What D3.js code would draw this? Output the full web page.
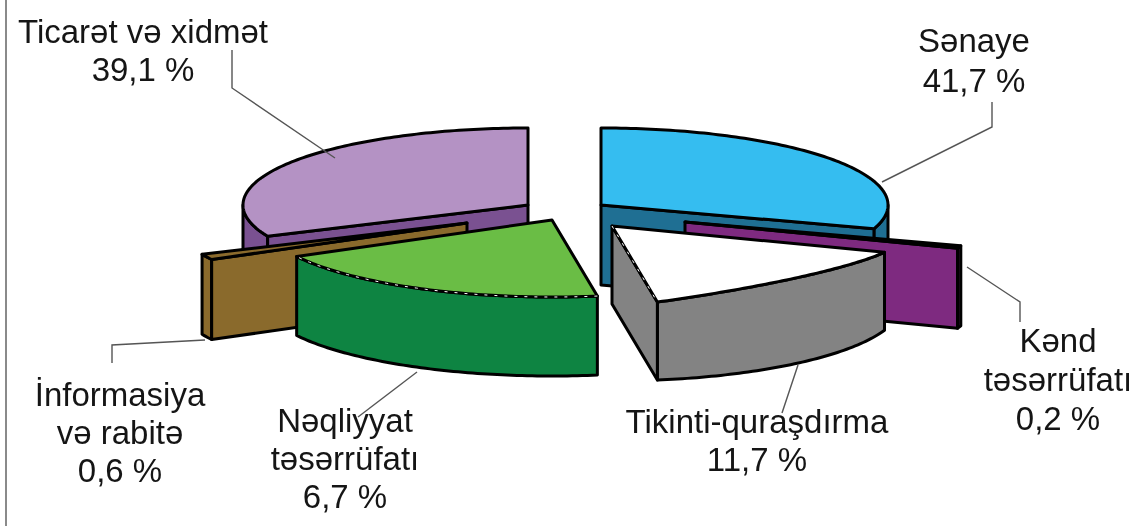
<!DOCTYPE html>
<html><head><meta charset="utf-8">
<script src="https://cdnjs.cloudflare.com/ajax/libs/d3/7.8.5/d3.min.js"></script>
<style>html,body{margin:0;background:#fff}svg{display:block}</style></head>
<body><svg id="c" width="1135" height="528"></svg>
<script>
// ---------- data ----------
const categories = ["Sənaye","Kənd təsərrüfatı","Tikinti-quraşdırma","Nəqliyyat təsərrüfatı","İnformasiya və rabitə","Ticarət və xidmət"];
const values = [41.7,0.2,11.7,6.7,0.6,39.1];
const valueLabels = ["41,7 %","0,2 %","11,7 %","6,7 %","0,6 %","39,1 %"];
const labelLines = [["Sənaye"],["Kənd","təsərrüfatı"],["Tikinti-quraşdırma"],["Nəqliyyat","təsərrüfatı"],["İnformasiya","və rabitə"],["Ticarət və xidmət"]];

// ---------- layout (perspective of the 3-D view) ----------
const pieBreaks = [0,150.12,150.84,192.96,217.08,219.24,360];
const viewBreaks = [0,108,110,171,241.7,246,360];
const warp = d3.scaleLinear().domain(pieBreaks).range(viewBreaks);
const RX = [287,290,290,290,290,285], RY = 77;
const rimBlend = [1,1,0.45,1,1,1];
const apexX = [601,685,612,552,467,528];
const apexY = [205,222,226,220,223,205];
const depth = [80,80,78,79,80,80];
const topCol = ["#35bdf0","#7e2a80","#ffffff","#6abd45","#8a6a2c","#b492c4"];
const sideCol = ["#1f6f93","#7e2a80","#838383","#0e8442","#8a6a2c","#7a5191"];
const rimCol = ["#1f6f93","#4a2450","#838383","#0e8442","#8a6a2c","#7a5191"];
const paintOrder = [5,0,4,1,3,2];
const labelX = [974,1058,757,345,120,143];
const labelY = [52,352,433,432,406,43];
const lineStep = [40,39,38,38,38,38];
const leaders = [
 [[992,102],[992,127],[882,182]],
 [[967,267],[1020,302],[1020,322]],
 [[798,365],[782,413]],
 [[417,372],[358,417]],
 [[205,340],[112,345],[112,363]],
 [[232,50],[232,88],[335,158]]
];

const svg = d3.select("#c");
const root = svg.append("g").style("filter","blur(0.45px)");
root.append("rect").attr("x",5).attr("y",0).attr("width",2).attr("height",526).attr("fill","#8a8a8a");

const deg = Math.PI/180;
const arcs = d3.pie().sort(null).value(d=>d).startAngle(0).endAngle(2*Math.PI)(values);
const line = d3.line();
const pt = (i,t,dy=0)=>[apexX[i]+RX[i]*Math.sin(t*deg), apexY[i]-RY*Math.cos(t*deg)+dy];
const rimPts = (i,a,b,dy=0)=>{ const n=Math.max(2,Math.ceil(Math.abs(b-a)))+1;
  return d3.range(n).map(k=>pt(i,a+(b-a)*k/(n-1),dy)); };
// upper rim, eased towards its chord where the view flattens it
const topPts = (i,a,b)=>{ const p=rimPts(i,a,b), s=p[0], e=p[p.length-1], k=rimBlend[i];
  return p.map(q=>{ const f=(q[0]-s[0])/((e[0]-s[0])||1);
    return [q[0], s[1]+(e[1]-s[1])*f+(q[1]-(s[1]+(e[1]-s[1])*f))*k]; }); };
const stroke = sel=>sel.attr("stroke","#000").attr("stroke-width",3).attr("stroke-linejoin","round");

paintOrder.forEach(i=>{
  const d = arcs[i];
  const t0 = warp(d.startAngle/deg), t1 = warp(d.endAngle/deg);
  const g = root.append("g").datum(d).attr("class","slice");
  const D = depth[i], apex=[apexX[i],apexY[i]];
  // outer wall (front half only)
  const a=Math.max(t0,90), b=Math.min(t1,270);
  if (b>a){
    const top=topPts(i,a,b), base=rimPts(i,b,a,D);
    g.append("path").attr("d",line(top.concat(base))+"Z").attr("fill",rimCol[i]).call(stroke);
  }
  // cut faces turned towards the viewer
  const cut = t=>{ const r=pt(i,t);
    g.append("path").attr("d",line([apex,r,[r[0],r[1]+D],[apex[0],apex[1]+D]])+"Z").attr("fill",sideCol[i]).call(stroke); };
  if (t1<180) cut(t1);
  if (t0>180) cut(t0);
  // top
  g.append("path").attr("d",line([apex].concat(topPts(i,t0,t1)))+"Z").attr("fill",topCol[i]).call(stroke);
  // speckled edges
  const speck = pts=>g.append("path").attr("d",line(pts)).attr("fill","none").attr("stroke","#fff").attr("stroke-width",1).attr("stroke-dasharray","3 7");
  if (i===3) speck(rimPts(i,t0,t1));
  if (i===2) speck([apex,pt(i,t1)]);
});

leaders.forEach(l=>root.append("path").attr("d",line(l)).attr("fill","none").attr("stroke","#555").attr("stroke-width",1.4));

categories.forEach((c,i)=>{
  const t = root.append("text").attr("text-anchor","middle").attr("font-family","'Liberation Sans',Arial,sans-serif")
    .attr("font-size",33).attr("fill","#151515");
  labelLines[i].concat([valueLabels[i]]).forEach((s,k)=>{
    t.append("tspan").attr("x",labelX[i]).attr("y",labelY[i]+k*lineStep[i]).text(s);
  });
});
</script></body></html>
